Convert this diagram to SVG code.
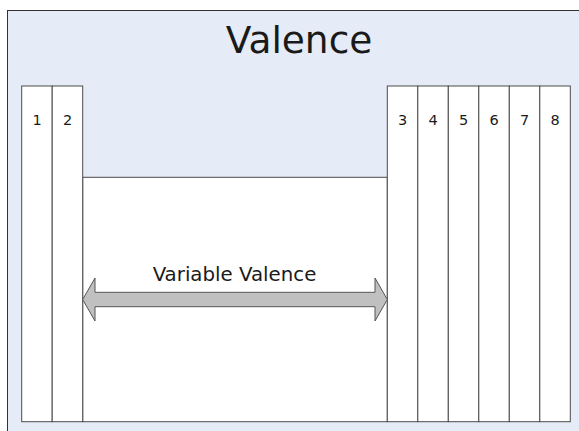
<svg xmlns="http://www.w3.org/2000/svg" width="579" height="431" viewBox="0 0 579 431">
<style>
.col{fill:#ffffff;stroke:#4a4a4a;stroke-width:1}
.num{font-family:"DejaVu Sans",Verdana,sans-serif;font-size:14.5px;fill:#1a1a1a;text-anchor:middle}
.lbl{font-family:"DejaVu Sans",Verdana,sans-serif;fill:#1a1a1a;text-anchor:middle}
</style>
<rect width="579" height="431" fill="#ffffff"/>
<g id="frame">
<rect x="7.5" y="10.5" width="600" height="450" fill="#e6ecf7" stroke="#333333" stroke-width="1"/>
<text class="lbl" x="299" y="52.5" font-size="37.5px">Valence</text>
</g>
<g id="middle"><rect class="col" x="82.7" y="177.3" width="304.6" height="244.4"/></g>
<g id="col1"><rect class="col" x="21.7" y="86" width="30.5" height="335.7"/><text class="num" x="37" y="124.5">1</text></g>
<g id="col2"><rect class="col" x="52.2" y="86" width="30.5" height="335.7"/><text class="num" x="67.5" y="124.5">2</text></g>
<g id="col3"><rect class="col" x="387.3" y="86" width="30.5" height="335.7"/><text class="num" x="402.5" y="124.5">3</text></g>
<g id="col4"><rect class="col" x="417.8" y="86" width="30.5" height="335.7"/><text class="num" x="433" y="124.5">4</text></g>
<g id="col5"><rect class="col" x="448.3" y="86" width="30.5" height="335.7"/><text class="num" x="463.5" y="124.5">5</text></g>
<g id="col6"><rect class="col" x="478.8" y="86" width="30.5" height="335.7"/><text class="num" x="494" y="124.5">6</text></g>
<g id="col7"><rect class="col" x="509.3" y="86" width="30.5" height="335.7"/><text class="num" x="524.5" y="124.5">7</text></g>
<g id="col8"><rect class="col" x="539.8" y="86" width="30.5" height="335.7"/><text class="num" x="555" y="124.5">8</text></g>
<g id="connectors">
<path d="M82.7,299.5 L95,278 L95,292.3 L375,292.3 L375,278 L387.3,299.5 L375,321 L375,306.7 L95,306.7 L95,321 Z" fill="#c0c0c0" stroke="#555555" stroke-width="1"/>
<text class="lbl" x="234.5" y="280.7" font-size="19.8px">Variable Valence</text>
</g>
</svg>
